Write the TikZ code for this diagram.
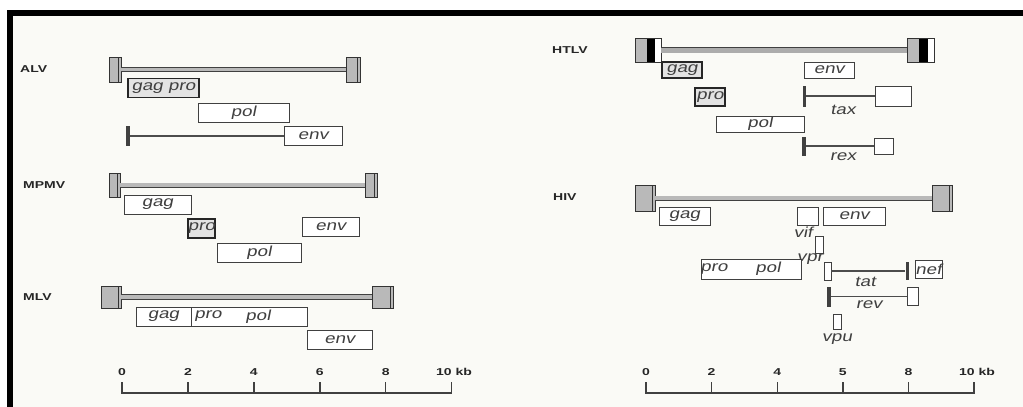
\documentclass[tikz,border=0pt]{standalone}
\usepackage{fontspec}
\setmainfont{Liberation Sans}
\newfontfamily\genefont[FakeStretch=1.3,FakeSlant=0.2]{Liberation Sans}
\newfontfamily\virfont[FakeStretch=1.4]{Liberation Sans Bold}
\newcommand\genesize{\genefont\fontsize{14.5}{15}\selectfont}
\newcommand\virsize{\virfont\fontsize{10}{11}\selectfont}
\usetikzlibrary{calc}
\definecolor{paper}{RGB}{250,250,246}

\begin{document}
\begin{tikzpicture}[
  x=1pt, y=-1pt,
  virus/.style={anchor=west, inner sep=0pt, font=\virsize, text=black!85},
  gene/.style={
    draw=black!75,
    line width=0.9pt,
    fill=white,
    inner sep=0pt,
    minimum height=19,
    font=\genesize,
    text=black!75
  },
  darkgene/.style={gene, draw=black!85, line width=1.7pt, fill=gray!22},
  exon/.style={draw=black!75, line width=0.9pt, fill=white, inner sep=0pt},
  tag/.style={inner sep=0pt, font=\genesize, text=black!75},
  ltr/.style={
    draw=black!80,
    fill=gray!55,
    line width=0.9pt,
    inner sep=0pt,
    path picture={
      \draw[black!80, line width=0.8pt]
        ([xshift=-3pt]path picture bounding box.north east) --
        ([xshift=-3pt]path picture bounding box.south east);
    }
  },
  htlvltr/.style={
    draw=black!80,
    fill=gray!55,
    line width=0.9pt,
    inner sep=0pt,
    minimum width=26,
    minimum height=24,
    path picture={
      \fill[black]
        ($(path picture bounding box.south west)!0.45!(path picture bounding box.south east)$) rectangle
        ($(path picture bounding box.north west)!0.76!(path picture bounding box.north east)$);
      \fill[white]
        ($(path picture bounding box.south west)!0.76!(path picture bounding box.south east)$) rectangle
        (path picture bounding box.north east);
    }
  },
  provirus/.style={draw=black!75, line width=0.9pt, double=gray!55, double distance=3.2pt},
  splice/.style={draw=black!70, line width=1.3pt},
  tick/.style={fill=black!75, inner sep=0pt, minimum width=3, minimum height=20},
  ruler/.style={draw=black!75, line width=1.4pt},
  num/.style={inner sep=0pt, font=\virsize, text=black!85}
]

\useasboundingbox (0,0) rectangle (1023,407);
\fill[paper] (13,16) rectangle (1023,407);
\fill[black] (7,10) rectangle (1023,16);
\fill[black] (7,10) rectangle (13,407);

% ALV
\node[virus] (alvname) at (20,69) {ALV};
\node[ltr, minimum width=12, minimum height=25] (alvL) at (115,69.5) {};
\node[ltr, minimum width=14, minimum height=25] (alvR) at (353,69.5) {};
\draw[provirus] (alvL) -- (alvR);
\node[darkgene, minimum width=71] (alvgag) at (163.5,88) {gag pro};
\node[gene, minimum width=91] (alvpol) at (243.5,112.5) {pol};
\node[gene, minimum width=58] (alvenv) at (313,136) {env};
\node[tick, minimum width=4] (alvtick) at (128,136) {};
\draw[splice] (alvtick) -- (alvenv.west);

% MPMV
\node[virus] (mpmvname) at (23,185) {MPMV};
\node[ltr, minimum width=11, minimum height=24] (mpmvL) at (114.5,185) {};
\node[ltr, minimum width=12, minimum height=24] (mpmvR) at (371,185) {};
\draw[provirus] (mpmvL) -- (mpmvR);
\node[gene, minimum width=67] (mpmvgag) at (157.5,204.5) {gag};
\node[darkgene, minimum width=25] (mpmvpro) at (201.5,228.5) {pro};
\node[gene, minimum width=57] (mpmvenv) at (330.5,226.5) {env};
\node[gene, minimum width=84] (mpmvpol) at (259,252.5) {pol};

% MLV
\node[virus] (mlvname) at (23,297) {MLV};
\node[ltr, minimum width=20, minimum height=22] (mlvL) at (111,297) {};
\node[ltr, minimum width=21, minimum height=22] (mlvR) at (382.5,297) {};
\draw[provirus, double distance=4pt] (mlvL) -- (mlvR);
\node[gene, minimum width=55] (mlvgag) at (163.5,316.5) {gag};
\node[gene, minimum width=116] (mlvpp) at (249,316.5) {};
\node[tag] (mlvpro) at (208,316.5) {pro};
\node[tag] (mlvpol) at (258,316.5) {pol};
\node[gene, minimum width=65] (mlvenv) at (339.5,339.5) {env};

% HTLV
\node[virus] (htlvname) at (552,50) {HTLV};
\node[htlvltr] (htlvL) at (648,50) {};
\node[htlvltr, minimum width=27] (htlvR) at (920.5,50) {};
\draw[provirus, double=gray!65, double distance=5pt] (htlvL) -- (htlvR);
\node[darkgene, minimum width=40, minimum height=16] (htlvgag) at (682,70) {gag};
\node[gene, minimum width=50, minimum height=16] (htlvenv) at (829,70) {env};
\node[darkgene, minimum width=30, minimum height=18] (htlvpro) at (710,97) {pro};
\node[tick, minimum height=21] (taxtick) at (804,96) {};
\node[exon, minimum width=36, minimum height=20] (taxex) at (893,96) {};
\draw[splice] (taxtick) -- (taxex.west);
\node[tag] (taxname) at (843,110) {tax};
\node[gene, minimum width=88, minimum height=16] (htlvpol) at (760,124) {pol};
\node[tick, minimum width=4, minimum height=19] (rextick) at (804,146) {};
\node[exon, minimum width=19, minimum height=16] (rexex) at (883.5,146) {};
\draw[splice] (rextick) -- (rexex.west);
\node[tag] (rexname) at (843,157) {rex};

% HIV
\node[virus] (hivname) at (553,197) {HIV};
\node[ltr, minimum width=20, minimum height=26] (hivL) at (645,198) {};
\node[ltr, minimum width=20, minimum height=26] (hivR) at (942,198) {};
\draw[provirus] (hivL) -- (hivR);
\node[gene, minimum width=51, minimum height=18] (hivgag) at (684.5,216) {gag};
\node[exon, minimum width=21, minimum height=18] (vifex) at (807.5,216) {};
\node[tag] (vifname) at (803,232) {vif};
\node[gene, minimum width=62, minimum height=18] (hivenv) at (854,216) {env};
\node[exon, minimum width=8, minimum height=17] (vprex) at (819,244.5) {};
\node[tag] (vprname) at (810,259) {vpr};
\node[gene, minimum width=100, minimum height=20] (hivpp) at (751,269) {};
\node[tag] (hivpro) at (714,269) {pro};
\node[tag] (hivpol) at (768,269) {pol};
\node[exon, minimum width=7, minimum height=18] (tatex) at (827.5,271) {};
\node[tick, minimum height=18] (tattick) at (907,271) {};
\draw[splice] (tatex) -- (tattick);
\node[gene, minimum width=27, minimum height=18] (nefex) at (928.5,269) {nef};
\node[tag] (tatname) at (865,282) {tat};
\node[tick, minimum width=4] (revtick) at (829,296.5) {};
\node[exon, minimum width=11, minimum height=18] (revex) at (912.5,296.5) {};
\draw[splice] (revtick) -- (revex.west);
\node[tag] (revname) at (869,305) {rev};
\node[exon, minimum width=8, minimum height=15] (vpuex) at (837,321.5) {};
\node[tag] (vpuname) at (837,339) {vpu};

% scales
\draw[ruler] (122,382) -- (122,393) -- (451.7,393) -- (451.7,382);
\foreach \k/\lab in {0/0,2/2,4/4,6/6,8/8} {
  \draw[ruler] (122+32.97*\k,382) -- (122+32.97*\k,393);
  \node[num] at (122+32.97*\k,372) {\lab};
}
\node[num] (lkb) at (454,372) {10 kb};

\draw[ruler] (646,382) -- (646,393) -- (974,393) -- (974,382);
\foreach \k/\lab in {0/0,2/2,4/4,6/5,8/8} {
  \draw[ruler] (646+32.8*\k,382) -- (646+32.8*\k,393);
  \node[num] at (646+32.8*\k,372) {\lab};
}
\node[num] (rkb) at (977,372) {10 kb};

\end{tikzpicture}
\end{document}
